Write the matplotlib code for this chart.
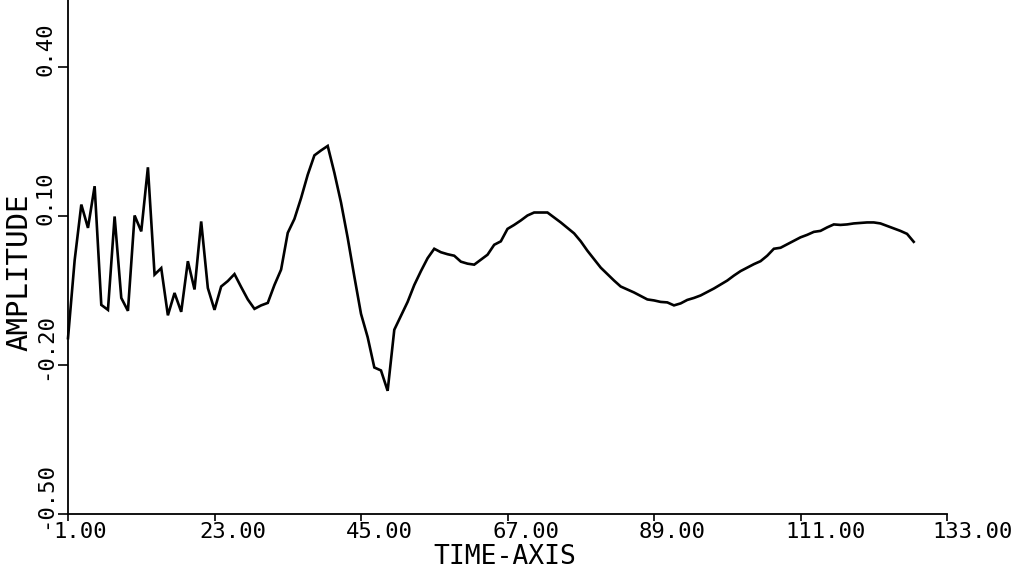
import matplotlib
matplotlib.use("Agg")
import matplotlib.pyplot as plt
from matplotlib.transforms import ScaledTranslation

# Sampled amplitude at integer time steps 1..128
time = list(range(1, 129))
amplitude = [
    -0.146, 0.011, 0.123, 0.076, 0.160, -0.079, -0.089, 0.099, -0.065, -0.091,
    0.101, 0.069, 0.198, -0.018, -0.005, -0.100, -0.055, -0.093, 0.009, -0.048,
    0.089, -0.045, -0.089, -0.042, -0.031, -0.017, -0.043, -0.068, -0.087, -0.080,
    -0.075, -0.039, -0.008, 0.066, 0.094, 0.136, 0.183, 0.222, 0.232, 0.241,
    0.187, 0.127, 0.056, -0.022, -0.097, -0.144, -0.205, -0.211, -0.252, -0.129,
    -0.101, -0.073, -0.039, -0.011, 0.015, 0.034, 0.027, 0.023, 0.020, 0.008,
    0.004, 0.002, 0.012, 0.022, 0.042, 0.049, 0.074, 0.082, 0.091, 0.101,
    0.107, 0.107, 0.107, 0.097, 0.087, 0.076, 0.065, 0.049, 0.030, 0.013,
    -0.004, -0.017, -0.030, -0.042, -0.048, -0.054, -0.061, -0.068, -0.070, -0.073,
    -0.074, -0.080, -0.076, -0.069, -0.065, -0.060, -0.053, -0.046, -0.038, -0.030,
    -0.020, -0.011, -0.004, 0.003, 0.009, 0.020, 0.034, 0.036, 0.043, 0.050,
    0.057, 0.062, 0.068, 0.070, 0.077, 0.083, 0.082, 0.083, 0.085, 0.086,
    0.087, 0.087, 0.085, 0.080, 0.075, 0.070, 0.064, 0.048,
]

x_ticks = [1, 23, 45, 67, 89, 111, 133]
x_tick_labels = ["1.00", "23.00", "45.00", "67.00", "89.00", "111.00", "133.00"]
y_ticks = [-0.50, -0.20, 0.10, 0.40]
y_tick_labels = ["-0.50", "-0.20", "0.10", "0.40"]

W, H, DPI = 1021, 571, 100
MONO = ["DejaVu Sans Mono"]

fig = plt.figure(figsize=(W / DPI, H / DPI), dpi=DPI)
fig.patch.set_facecolor("white")

ax_left, ax_right, ax_bottom = 68, 947, 514
ax = fig.add_axes([ax_left / W, (H - ax_bottom) / H,
                   (ax_right - ax_left) / W, ax_bottom / H])
ax.set_facecolor("white")

ax.plot(time, amplitude, color="black", lw=1.9, solid_joinstyle="miter",
        clip_on=False)

ax.set_xlim(1, 133)
ax.set_ylim(-0.50, -0.50 + ax_bottom / 496.7)

for side in ("top", "right"):
    ax.spines[side].set_visible(False)
for side in ("left", "bottom"):
    ax.spines[side].set_linewidth(1.3)
    ax.spines[side].set_color("black")

ax.set_xticks(x_ticks)
ax.set_xticklabels(x_tick_labels, family=MONO, fontsize=16, ha="left")
ax.tick_params(axis="x", direction="out", length=5, width=1.2, pad=1)
for lbl in ax.get_xticklabels():
    lbl.set_transform(lbl.get_transform()
                      + ScaledTranslation(-15 / DPI, 0, fig.dpi_scale_trans))

ax.set_yticks(y_ticks)
ax.set_yticklabels(y_tick_labels, family=MONO, fontsize=16,
                   rotation=90, va="center", ha="right")
ax.tick_params(axis="y", direction="out", length=7, width=1.2, pad=2)
for lbl in ax.get_yticklabels():
    lbl.set_transform(lbl.get_transform()
                      + ScaledTranslation(0, 18 / DPI, fig.dpi_scale_trans))

fig.text(505 / W, 1 - 557 / H, "TIME-AXIS", family=MONO, fontsize=19,
         ha="center", va="center")
fig.text(19 / W, 1 - 272 / H, "AMPLITUDE", family=MONO, fontsize=21,
         rotation=90, ha="center", va="center")

fig.savefig("out.png", dpi=DPI, facecolor="white")
